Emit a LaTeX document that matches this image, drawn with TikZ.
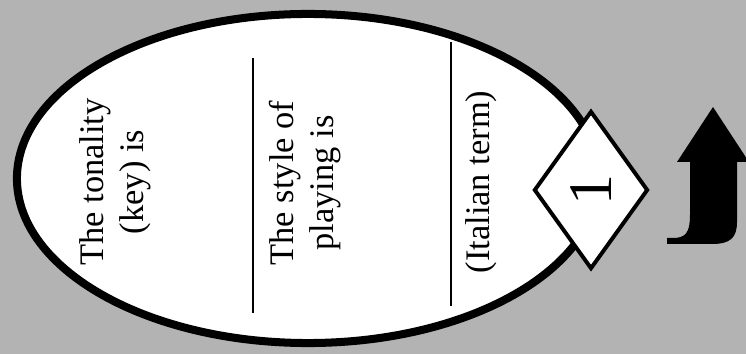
\documentclass[tikz,border=0pt]{standalone}
\usepackage{fontspec}
\setmainfont{Liberation Serif}
\usetikzlibrary{shapes.geometric}
\definecolor{bggray}{RGB}{179,179,179}

\begin{document}
\begin{tikzpicture}[x=0.025cm,y=-0.025cm,
 field/.style={rotate=90,align=center,inner sep=0pt,font=\fontsize{24.5}{28.5}\selectfont},
 divider/.style={line width=1pt}]
\useasboundingbox (0,0) rectangle (746,354);
\fill[bggray] (0,0) rectangle (746,354);
\node[ellipse,draw,line width=5.7pt,fill=white,minimum width=14.55cm,minimum height=8.225cm,inner sep=0pt] (oval) at (308,178.5) {};
\node[field] (key) at (115,182) {The tonality\\(key) is};
\node[field] (style) at (305,183) {The style of\\playing is};
\node[field] (term) at (481,182) {(Italian term)};
\coordinate (d1t) at (253,58); \coordinate (d1b) at (253,313);
\coordinate (d2t) at (451,42); \coordinate (d2b) at (451,306);
\draw[divider] (d1t)--(d1b);
\draw[divider] (d2t)--(d2b);
\node[diamond,draw,line width=2.8pt,fill=white,inner sep=0pt,minimum width=2.85cm,minimum height=3.95cm] (badge) at (591,190) {};
\node[rotate=90,font=\fontsize{44}{50}\selectfont] (num) at (badge) {1};
\fill (713,107)--(749,162)--(737,162)--(737,222) .. controls (737,238) and (730,244) .. (712,244)
 --(667,244)--(667,238)--(673,238) .. controls (686,238) and (690,232) .. (690,215)--(690,162)--(677,162)--cycle;
\end{tikzpicture}
\end{document}
